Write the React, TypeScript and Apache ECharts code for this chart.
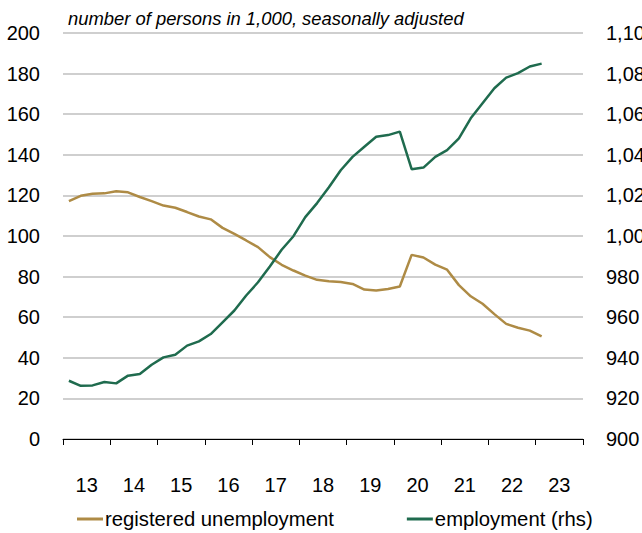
import React, { useEffect, useRef } from "react";
import * as echarts from "echarts";

const years = ["13", "14", "15", "16", "17", "18", "19", "20", "21", "22", "23"];
const quarters = ["Q1", "Q2", "Q3", "Q4"];

const unemployment = [
  117.2, 119.8, 120.8, 121, 122, 121.5, 119.2, 117.2, 115, 113.9, 111.8, 109.6,
  108.2, 104, 101, 97.8, 94.5, 89.6, 85.8, 83, 80.5, 78.4, 77.7, 77.3, 76.4,
  73.6, 73.1, 73.9, 75.1, 90.7, 89.4, 85.9, 83.4, 75.8, 70.3, 66.6, 61.5, 56.7,
  54.8, 53.4, 50.5,
];

const employment = [
  928.7, 926.2, 926.4, 928.1, 927.4, 931.2, 932, 936.6, 940.2, 941.5, 946,
  948.1, 951.7, 957.5, 963.3, 970.7, 977.2, 985, 993.2, 999.9, 1009.3, 1016.2,
  1024, 1032.4, 1039, 1044, 1048.9, 1049.7, 1051.4, 1032.9, 1033.7, 1039,
  1042.3, 1048.1, 1058, 1065.4, 1072.8, 1078, 1080.2, 1083.5, 1084.9,
];

const seriesNames = ["registered unemployment", "employment (rhs)"];
const titleText = "number of persons in 1,000, seasonally adjusted";

const FONT = "'Liberation Sans Narrow', 'Arial Narrow', 'Liberation Sans', Arial, sans-serif";
const GOLD = "#AE8B45";
const GREEN = "#1F6B4E";

export default function App() {
  const ref = useRef<HTMLDivElement>(null);

  useEffect(() => {
    if (!ref.current) return;
    const chart = echarts.init(ref.current, null, { renderer: "svg" });
    const quarterCats: string[] = [];
    years.forEach((y) => quarters.forEach((q) => quarterCats.push(`20${y}${q}`)));

    chart.setOption({
      animation: false,
      backgroundColor: "#ffffff",
      textStyle: { fontFamily: FONT },
      title: {
        text: titleText,
        left: 63,
        top: 9,
        padding: [0, 5],
        textStyle: {
          fontFamily: FONT,
          fontStyle: "italic",
          fontWeight: "normal",
          fontSize: 18.4,
          color: "#000",
        },
      },
      grid: {
        left: 63,
        right: 59,
        top: 33,
        bottom: 94,
        containLabel: false,
        outerBoundsMode: "none",
      },
      legend: {
        data: seriesNames,
        left: 72,
        top: 504,
        icon: "rect",
        itemWidth: 26,
        itemHeight: 3,
        itemGap: 73,
        textStyle: {
          fontFamily: FONT,
          fontSize: 20.3,
          color: "#000",
          padding: [0, 0, 0, -3],
        },
      },
      xAxis: [
        {
          type: "category",
          data: years,
          boundaryGap: true,
          position: "bottom",
          axisLine: { show: true, lineStyle: { color: "#000", width: 1 } },
          axisTick: { show: true, length: 6, lineStyle: { color: "#000" } },
          axisLabel: {
            margin: 36,
            fontFamily: FONT,
            fontSize: 20,
            color: "#000",
          },
          splitLine: { show: false },
          z: 10,
        },
        {
          type: "category",
          data: quarterCats,
          boundaryGap: true,
          position: "bottom",
          show: false,
        },
      ],
      yAxis: [
        {
          type: "value",
          min: 0,
          max: 200,
          interval: 20,
          axisLine: { show: false },
          axisTick: { show: false },
          axisLabel: {
            margin: 23,
            fontFamily: FONT,
            fontSize: 20,
            color: "#000",
          },
          splitLine: { show: true, lineStyle: { color: "#BFBFBF", width: 1.5 } },
        },
        {
          type: "value",
          min: 900,
          max: 1100,
          interval: 20,
          position: "right",
          axisLine: { show: false },
          axisTick: { show: false },
          axisLabel: {
            margin: 23,
            fontFamily: FONT,
            fontSize: 20,
            color: "#000",
            formatter: (v: number) => (v >= 1000 ? v.toLocaleString("en-US") : String(v)),
          },
          splitLine: { show: false },
        },
      ],
      series: [
        {
          name: seriesNames[0],
          type: "line",
          xAxisIndex: 1,
          yAxisIndex: 0,
          data: unemployment,
          showSymbol: false,
          symbol: "none",
          lineStyle: { color: GOLD, width: 2.5 },
          itemStyle: { color: GOLD },
        },
        {
          name: seriesNames[1],
          type: "line",
          xAxisIndex: 1,
          yAxisIndex: 1,
          data: employment,
          showSymbol: false,
          symbol: "none",
          lineStyle: { color: GREEN, width: 2.5 },
          itemStyle: { color: GREEN },
        },
      ],
    });
    return () => chart.dispose();
  }, []);

  return (
    <div
      ref={ref}
      style={{ position: "fixed", left: 0, top: 0, width: 642, height: 533 }}
    />
  );
}
